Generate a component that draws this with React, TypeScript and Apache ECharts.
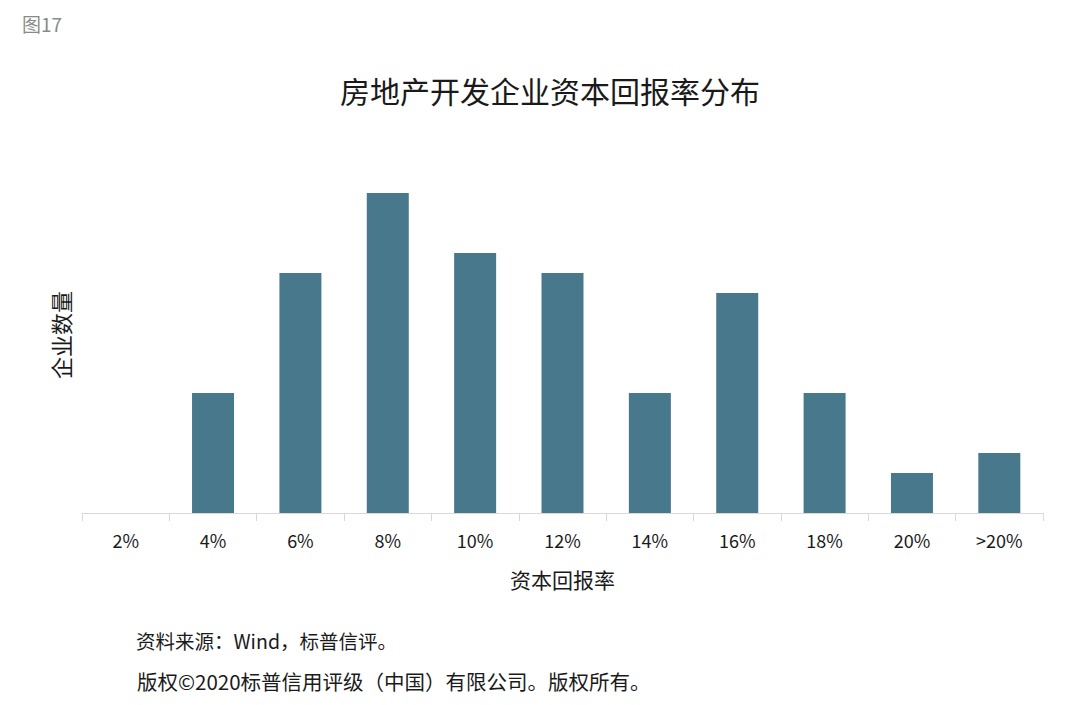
import React, { useEffect, useRef } from "react";
import * as echarts from "echarts";

const categories = ["2%", "4%", "6%", "8%", "10%", "12%", "14%", "16%", "18%", "20%", ">20%"];
const companyCounts = [0, 6, 12, 16, 13, 12, 6, 11, 6, 2, 3];

const FONT = "'Noto Sans CJK SC', 'Noto Sans', sans-serif";

export default function App() {
  const ref = useRef<HTMLDivElement>(null);
  useEffect(() => {
    if (!ref.current) return;
    const chart = echarts.init(ref.current, undefined, { renderer: "svg" });
    chart.setOption({
      animation: false,
      backgroundColor: "#ffffff",
      title: {
        text: "房地产开发企业资本回报率分布",
        left: 545,
        top: 70,
        textAlign: "center",
        textStyle: { fontFamily: FONT, fontSize: 30, fontWeight: "normal", color: "#1a1a1a" },
      },
      grid: { left: 82, right: 37, top: 113, bottom: 192 },
      xAxis: {
        type: "category",
        data: categories,
        boundaryGap: true,
        axisLine: { lineStyle: { color: "#d9d9d9", width: 1 } },
        axisTick: { show: true, interval: 0, length: 8, lineStyle: { color: "#d9d9d9" } },
        axisLabel: { interval: 0, margin: 18, fontFamily: FONT, fontSize: 18, color: "#1a1a1a" },
        name: "资本回报率",
        nameLocation: "middle",
        nameGap: 55,
        nameTextStyle: { fontFamily: FONT, fontSize: 21, color: "#1a1a1a" },
      },
      yAxis: {
        type: "value",
        min: 0,
        max: 20,
        interval: 4,
        axisLine: { show: false },
        axisTick: { show: false },
        axisLabel: { show: false },
        splitLine: { show: false },
      },
      series: [
        {
          type: "bar",
          data: companyCounts,
          barWidth: 42,
          itemStyle: { color: "#47788b" },
        },
      ],
      graphic: [
        {
          type: "text",
          x: 60,
          y: 335,
          rotation: Math.PI / 2,
          style: {
            text: "企业数量",
            fontFamily: FONT,
            fontSize: 22,
            fill: "#1a1a1a",
            align: "center",
            verticalAlign: "middle",
          },
        },
        {
          type: "text",
          left: 22,
          top: 14,
          style: { text: "图17", fontFamily: FONT, fontSize: 19, fill: "#8a8a8a" },
        },
        {
          type: "text",
          left: 136,
          top: 631,
          style: { text: "资料来源：Wind，标普信评。", fontFamily: FONT, fontSize: 19.5, fill: "#1a1a1a" },
        },
        {
          type: "text",
          left: 137,
          top: 671,
          style: {
            text: "版权©2020标普信用评级（中国）有限公司。版权所有。",
            fontFamily: FONT,
            fontSize: 20.5,
            fill: "#1a1a1a",
          },
        },
      ],
    });
    return () => chart.dispose();
  }, []);
  return <div ref={ref} style={{ width: 1080, height: 705, position: "absolute", left: 0, top: 0 }} />;
}
